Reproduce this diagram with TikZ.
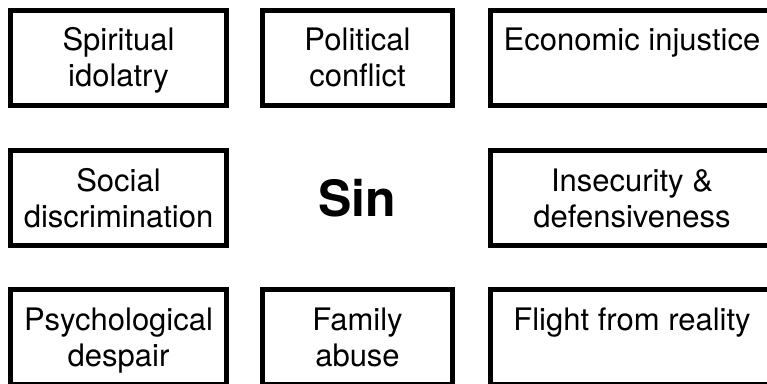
\documentclass[tikz,border=0pt]{standalone}
\usepackage{fontspec}
\setmainfont{TeX Gyre Heros}
\usetikzlibrary{positioning}
\tikzset{
  sinbox/.style={draw, line width=5pt, minimum height=95pt, inner sep=0pt,
    align=center, font=\fontsize{31}{36}\selectfont,
    text height=58pt, text depth=0pt},
  oneline/.style={text height=22pt, text depth=36pt},
}

\begin{document}
\begin{tikzpicture}[x=1pt, y=1pt]
  \useasboundingbox (0,0) rectangle (767,383);
  % top row
  \node[sinbox, minimum width=216pt] (spirit) at (118.5,325) {Spiritual\\idolatry};
  \node[sinbox, minimum width=190pt, right=31pt of spirit] (polit) {Political\\conflict};
  \node[sinbox, oneline, minimum width=283pt, right=33pt of polit] (econ) {Economic injustice};
  % middle row
  \node[sinbox, minimum width=216pt, below=40pt of spirit] (social) {Social\\discrimination};
  \node[font=\fontsize{50}{60}\selectfont\bfseries, below=40pt of polit, minimum height=100pt] (sin) {Sin};
  \node[sinbox, minimum width=283pt, below=40pt of econ] (insec) {Insecurity \&\\defensiveness};
  % bottom row
  \node[sinbox, minimum width=216pt, below=39pt of social] (psych) {Psychological\\despair};
  \node[sinbox, minimum width=190pt, right=31pt of psych] (family) {Family\\abuse};
  \node[sinbox, oneline, minimum width=283pt, below=39pt of insec] (flight) {Flight from reality};
\end{tikzpicture}
\end{document}
